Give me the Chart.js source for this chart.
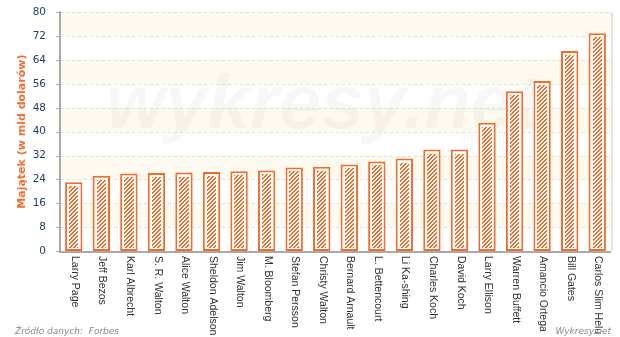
<!DOCTYPE html>
<html>
<head>
<meta charset="utf-8">
<script src="https://cdn.jsdelivr.net/npm/chart.js@4/dist/chart.umd.min.js"></script>
<style>
  html, body { margin: 0; padding: 0; background: #fff; }
  #wrap { width: 620px; height: 337px; position: relative; }
</style>
</head>
<body>
<div id="wrap"><canvas id="chart"></canvas></div>
<script>
const names = ['Larry Page', 'Jeff Bezos', 'Karl Albrecht', 'S. R. Walton', 'Alice Walton',
  'Sheldon Adelson', 'Jim Walton', 'M. Bloomberg', 'Stefan Persson', 'Christy Walton',
  'Bernard Arnault', 'L. Bettencourt', 'Li Ka-shing', 'Charles Koch', 'David Koch',
  'Larry Ellison', 'Warren Buffett', 'Amancio Ortega', 'Bill Gates', 'Carlos Slim Helú'];
const wealth = [23, 25.2, 26, 26.1, 26.3, 26.5, 26.7, 27, 28, 28.2,
  29, 30, 31, 34, 34, 43, 53.5, 57, 67, 73];
const yTicks = [0, 8, 16, 24, 32, 40, 48, 56, 64, 72, 80];

const ORANGE = '#f26c2a';

// diagonal hatch tile
function hatch() {
  const c = document.createElement('canvas');
  c.width = 4; c.height = 4;
  const g = c.getContext('2d');
  g.fillStyle = '#fff';
  g.fillRect(0, 0, 4, 4);
  g.fillStyle = ORANGE;
  for (let i = 0; i < 4; i++) {
    for (let j = 0; j < 4; j++) {
      if ((i + j) % 4 < 2) g.fillRect(i, j, 1, 1);
    }
  }
  return c;
}

const frame = {
  id: 'frame',
  beforeDatasetsDraw(chart) {
    const { ctx, chartArea: a, scales: { y } } = chart;
    ctx.save();
    // bands
    for (let i = 0; i < yTicks.length - 1; i++) {
      if (i % 2 === 1) {
        const t = y.getPixelForValue(yTicks[i + 1]), b = y.getPixelForValue(yTicks[i]);
        ctx.fillStyle = '#fffaf0';
        ctx.fillRect(a.left, t, a.right - a.left, b - t);
      }
    }
    // watermark
    ctx.font = 'italic bold 76px "Liberation Sans"';
    ctx.fillStyle = 'rgba(0,0,0,0.03)';
    ctx.textBaseline = 'alphabetic';
    ctx.fillText('wykresy.net', 106, 128);
    // dashed grid
    ctx.strokeStyle = '#dedede';
    ctx.lineWidth = 1;
    ctx.setLineDash([3, 3]);
    yTicks.slice(1).forEach(v => {
      const py = Math.round(y.getPixelForValue(v)) + 0.5;
      ctx.beginPath(); ctx.moveTo(a.left, py); ctx.lineTo(a.right, py); ctx.stroke();
    });
    ctx.setLineDash([]);
    // axes
    ctx.strokeStyle = '#aaaaaa';
    ctx.lineWidth = 2;
    ctx.beginPath();
    ctx.moveTo(a.left, a.top - 1); ctx.lineTo(a.left, a.bottom + 1); ctx.lineTo(a.right, a.bottom + 1);
    ctx.stroke();
    ctx.strokeStyle = '#e4e4e4';
    ctx.beginPath(); ctx.moveTo(a.right + 1, a.top); ctx.lineTo(a.right + 1, a.bottom); ctx.stroke();
    ctx.strokeStyle = '#aaaaaa';
    ctx.lineWidth = 1;
    yTicks.forEach(v => {
      const py = Math.round(y.getPixelForValue(v)) + 0.5;
      ctx.beginPath(); ctx.moveTo(a.left - 4, py); ctx.lineTo(a.left, py); ctx.stroke();
    });
    ctx.restore();
  },
  afterDatasetsDraw(chart) {
    const { ctx } = chart;
    const pat = ctx.createPattern(hatch(), 'repeat');
    ctx.save();
    chart.getDatasetMeta(0).data.forEach(bar => {
      const l = Math.round(bar.x - bar.width / 2) + 4;
      const r = Math.round(bar.x + bar.width / 2) - 4;
      const t = Math.round(bar.y) + 4;
      const b = Math.round(bar.base) - 3;
      ctx.fillStyle = pat;
      ctx.fillRect(l, t, r - l, b - t);
    });
    ctx.restore();
  },
  afterDraw(chart) {
    const { ctx, chartArea: a, scales: { x } } = chart;
    ctx.save();
    // category labels, rotated clockwise
    ctx.font = '10.5px "Liberation Sans"';
    ctx.fillStyle = '#333';
    ctx.textAlign = 'left';
    ctx.textBaseline = 'middle';
    names.forEach((n, i) => {
      ctx.save();
      ctx.translate(x.getPixelForValue(i) + 1, a.bottom + 5);
      ctx.rotate(Math.PI / 2);
      ctx.fillText(n, 0, 0);
      ctx.restore();
    });
    // axis title
    ctx.save();
    ctx.translate(22, (a.top + a.bottom) / 2);
    ctx.rotate(-Math.PI / 2);
    ctx.font = 'bold 11px "DejaVu Sans"';
    ctx.fillStyle = '#f07030';
    ctx.textAlign = 'center';
    ctx.textBaseline = 'middle';
    ctx.fillText('Majątek (w mld dolarów)', 0, 0);
    ctx.restore();
    // footer
    ctx.font = 'italic 9px "DejaVu Sans"';
    ctx.fillStyle = '#8a8a8a';
    ctx.textBaseline = 'alphabetic';
    ctx.textAlign = 'left';
    ctx.fillText('Źródło danych:  Forbes', 15, 334);
    ctx.textAlign = 'right';
    ctx.fillText('Wykresy.net', 611, 334);
    ctx.restore();
  }
};

new Chart(document.getElementById('chart'), {
  type: 'bar',
  data: {
    labels: names,
    datasets: [{
      data: wealth,
      backgroundColor: '#ffffff',
      borderColor: ORANGE,
      borderWidth: 2,
      borderSkipped: false,
      categoryPercentage: 1,
      barPercentage: 0.63
    }]
  },
  options: {
    responsive: true,
    maintainAspectRatio: false,
    animation: false,
    layout: { padding: { top: 11, right: 9, left: 0, bottom: 0 } },
    plugins: { legend: { display: false }, tooltip: { enabled: false } },
    scales: {
      x: {
        grid: { display: false },
        border: { display: false },
        ticks: { display: false },
        afterFit: s => { s.height = 86; }
      },
      y: {
        min: 0, max: 80,
        grid: { display: false },
        border: { display: false },
        ticks: {
          stepSize: 8,
          padding: 6,
          color: '#21426e',
          font: { family: 'DejaVu Sans', size: 10.5 }
        },
        afterFit: s => { s.width = 60; }
      }
    }
  },
  plugins: [frame]
});
</script>
</body>
</html>
